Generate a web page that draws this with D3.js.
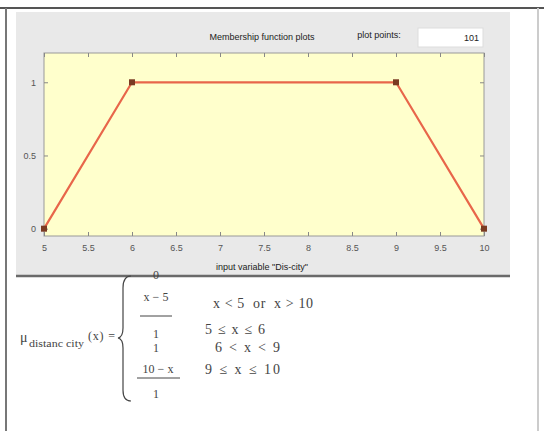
<!DOCTYPE html>
<html>
<head>
<meta charset="utf-8">
<script src="https://cdn.jsdelivr.net/npm/d3@7"></script>
<style>
  body { margin: 0; background: #fff; }
  svg text { font-family: "Liberation Sans", Arial, sans-serif; }
</style>
</head>
<body>
<svg id="chart" width="544" height="431"></svg>
<script>
// membership function vertices (trapmf 5 6 9 10)
const xPoints = [5, 6, 9, 10]
const muPoints = [0, 1, 1, 0]
const xTicks = [5, 5.5, 6, 6.5, 7, 7.5, 8, 8.5, 9, 9.5, 10]
const yTicks = [0, 0.5, 1]
const plotPoints = "101"

// formula cases
const caseConds = ["x < 5  or  x > 10", "5 \u2264 x \u2264 6", "6 < x < 9", "9 \u2264 x \u2264 10"]

const svg = d3.select("#chart")

// outer frame lines
svg.append("rect").attr("x", 0).attr("y", 0).attr("width", 544).attr("height", 431).attr("fill", "#fff")
svg.append("line").attr("x1", 0).attr("x2", 544).attr("y1", 8).attr("y2", 8)
    .attr("stroke", "#555").attr("stroke-width", 2)
svg.append("line").attr("x1", 6).attr("x2", 6).attr("y1", 8).attr("y2", 431)
    .attr("stroke", "#777").attr("stroke-width", 2)
svg.append("line").attr("x1", 538).attr("x2", 538).attr("y1", 8).attr("y2", 431)
    .attr("stroke", "#ccc").attr("stroke-width", 2)

// grey figure panel
svg.append("rect").attr("x", 16).attr("y", 12).attr("width", 494).attr("height", 264)
    .attr("fill", "#e9e9e9")
svg.append("line").attr("x1", 16).attr("x2", 510).attr("y1", 276).attr("y2", 276)
    .attr("stroke", "#6a6a6a").attr("stroke-width", 2.5)

const x = d3.scaleLinear().domain([5, 10]).range([44, 484])
const y = d3.scaleLinear().domain([-0.05, 1.2]).range([236, 53])

// axes background
svg.append("rect").attr("x", x(5)).attr("y", y(1.2))
    .attr("width", x(10) - x(5)).attr("height", y(-0.05) - y(1.2))
    .attr("fill", "#ffffcc").attr("stroke", "#999").attr("stroke-width", 1)

const tickLen = -4
const axisColor = "#888"

const xAxis = svg.append("g").attr("transform", `translate(0,${y(-0.05)})`)
    .call(d3.axisBottom(x).tickValues(xTicks).tickSize(tickLen).tickPadding(9)
        .tickFormat(d3.format("")))
const xAxisTop = svg.append("g").attr("transform", `translate(0,${y(1.2)})`)
    .call(d3.axisTop(x).tickValues(xTicks).tickSize(tickLen).tickFormat(""))
const yAxis = svg.append("g").attr("transform", `translate(${x(5)},0)`)
    .call(d3.axisLeft(y).tickValues(yTicks).tickSize(tickLen).tickPadding(8)
        .tickFormat(d3.format("")))
const yAxisRight = svg.append("g").attr("transform", `translate(${x(10)},0)`)
    .call(d3.axisRight(y).tickValues(yTicks).tickSize(tickLen).tickFormat(""))

for (const g of [xAxis, xAxisTop, yAxis, yAxisRight]) {
    g.select(".domain").remove()
    g.selectAll("line").attr("stroke", axisColor)
    g.selectAll("text").attr("fill", "#555").style("font-size", "9px")
}

// membership line
const line = d3.line().x((d, i) => x(xPoints[i])).y(d => y(d))
svg.append("path").datum(muPoints)
    .attr("d", line)
    .attr("fill", "none")
    .attr("stroke", "#e8664a")
    .attr("stroke-width", 2.2)

svg.selectAll(".vertex").data(muPoints).join("rect")
    .attr("class", "vertex")
    .attr("x", (d, i) => x(xPoints[i]) - 3)
    .attr("y", d => y(d) - 3)
    .attr("width", 6).attr("height", 6)
    .attr("fill", "#7a3a22")

// titles
svg.append("text").attr("x", 262).attr("y", 40).attr("text-anchor", "middle")
    .style("font-size", "9px").attr("fill", "#222").text("Membership function plots")
svg.append("text").attr("x", 379).attr("y", 38).attr("text-anchor", "middle")
    .style("font-size", "9px").attr("fill", "#222").text("plot points:")
svg.append("rect").attr("x", 418).attr("y", 28).attr("width", 65).attr("height", 19)
    .attr("fill", "#fff").attr("stroke", "#ddd")
svg.append("text").attr("x", 479).attr("y", 41).attr("text-anchor", "end")
    .style("font-size", "9px").attr("fill", "#222").text(plotPoints)
svg.append("text").attr("x", 262).attr("y", 270).attr("text-anchor", "middle")
    .style("font-size", "9px").attr("fill", "#222").text("input variable \"Dis-city\"")

// formula
const serif = "'Liberation Serif', 'Times New Roman', serif"
const f = svg.append("g").attr("fill", "#444")
f.append("text").attr("x", 20).attr("y", 342).style("font-size", "14px")
    .style("font-family", serif).text("\u03bc")
f.append("text").attr("x", 29).attr("y", 347).style("font-size", "10px")
    .attr("textLength", 55).attr("lengthAdjust", "spacingAndGlyphs")
    .style("font-family", serif).text("distanc city")
f.append("text").attr("x", 88).attr("y", 340).style("font-size", "12px")
    .attr("textLength", 27).attr("lengthAdjust", "spacing")
    .style("font-family", serif).text("(x) =")
f.append("path").attr("d", "M131,276 Q123,276 123,288 L123,328 Q123,337 118,338 Q123,339 123,348 L123,390 Q123,401 131,401")
    .attr("fill", "none").attr("stroke", "#444").attr("stroke-width", 1.2)

const fs = "12px"
const fx = 156
f.append("text").attr("x", fx).attr("y", 279).attr("text-anchor", "middle").style("font-size", fs)
    .style("font-family", serif).text("0")
f.append("text").attr("x", fx).attr("y", 301).attr("text-anchor", "middle").style("font-size", fs)
    .style("font-family", serif).text("x \u2212 5")
f.append("line").attr("x1", 140).attr("x2", 172).attr("y1", 316).attr("y2", 316).attr("stroke", "#444")
f.append("text").attr("x", fx).attr("y", 338).attr("text-anchor", "middle").style("font-size", fs)
    .style("font-family", serif).text("1")
f.append("text").attr("x", fx).attr("y", 352).attr("text-anchor", "middle").style("font-size", fs)
    .style("font-family", serif).text("1")
f.append("text").attr("x", fx + 2).attr("y", 373).attr("text-anchor", "middle").style("font-size", fs)
    .style("font-family", serif).text("10 \u2212  x")
f.append("line").attr("x1", 137).attr("x2", 180).attr("y1", 378).attr("y2", 378).attr("stroke", "#444")
f.append("text").attr("x", fx).attr("y", 398).attr("text-anchor", "middle").style("font-size", fs)
    .style("font-family", serif).text("1")

const condPos = [[213, 308, 100], [205, 334, 60], [215, 352, 65], [205, 374, 75]]
f.selectAll(".cond").data(caseConds).join("text")
    .attr("class", "cond")
    .attr("x", (d, i) => condPos[i][0])
    .attr("y", (d, i) => condPos[i][1])
    .attr("textLength", (d, i) => condPos[i][2])
    .attr("lengthAdjust", "spacing")
    .style("font-size", "14px")
    .style("font-family", serif)
    .attr("xml:space", "preserve")
    .text(d => d)
</script>
</body>
</html>
